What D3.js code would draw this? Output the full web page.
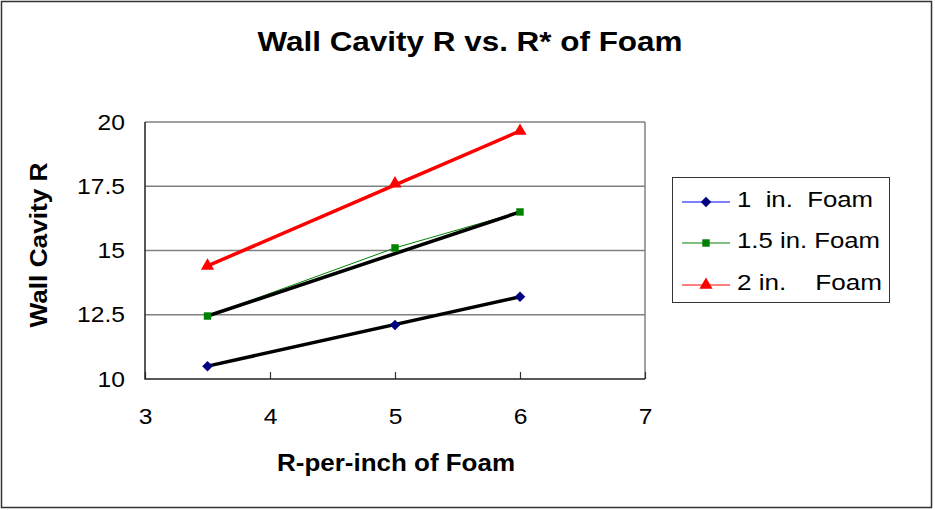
<!DOCTYPE html>
<html>
<head>
<meta charset="utf-8">
<script src="https://cdn.jsdelivr.net/npm/d3@7"></script>
<style>
  body { margin: 0; background: #fff; }
  svg { font-family: "Liberation Sans", Arial, sans-serif; }
</style>
</head>
<body>
<svg class="chart" width="935" height="510"></svg>
<script>
// data
const rPerInch = [3.5, 5, 6];
const foam1 = [10.5, 12.1, 13.2];
const foam15 = [12.45, 15.1, 16.5];
const foam2 = [14.4, 17.6, 19.65];
const seriesNames = ["1  in.  Foam", "1.5 in. Foam", "2 in.    Foam"];
const xTicks = [3, 4, 5, 6, 7];
const yTicks = [10, 12.5, 15, 17.5, 20];

// config
const plot = { left: 145, top: 122, right: 645, bottom: 379 };
const svg = d3.select("svg.chart");

const x = d3.scaleLinear().domain([3, 7]).range([plot.left, plot.right]);
const y = d3.scaleLinear().domain([10, 20]).range([plot.bottom, plot.top]);

const diamond = d3.symbolDiamond2 || d3.symbolDiamond;
const series = [
  { name: seriesNames[0], values: foam1, color: "#0000ff", marker: "#000080", shape: diamond, size: 70, trend: "#000" },
  { name: seriesNames[1], values: foam15, color: "#008000", marker: "#008000", shape: d3.symbolSquare, size: 55, trend: "#000" },
  { name: seriesNames[2], values: foam2, color: "#ff0000", marker: "#ff0000", shape: d3.symbolTriangle, size: 75, trend: "#ff0000" },
];

// outer frame
svg.append("rect")
  .attr("x", 1.5).attr("y", 1.5)
  .attr("width", 930).attr("height", 506)
  .attr("fill", "#fff")
  .attr("stroke", "#333").attr("stroke-width", 1.5);

// gridlines
svg.append("g")
  .selectAll("line")
  .data(yTicks.filter(d => d > 10))
  .join("line")
  .attr("x1", plot.left).attr("x2", plot.right)
  .attr("y1", d => y(d)).attr("y2", d => y(d))
  .attr("stroke", "#808080").attr("stroke-width", 1.5);

// right border
svg.append("line")
  .attr("x1", plot.right).attr("x2", plot.right)
  .attr("y1", plot.top).attr("y2", plot.bottom)
  .attr("stroke", "#808080").attr("stroke-width", 1.5);

// x axis
const gx = svg.append("g")
  .attr("transform", `translate(0,${plot.bottom})`)
  .call(d3.axisBottom(x).tickValues(xTicks).tickSize(-7).tickPadding(29).tickFormat(d => d));
gx.select(".domain").remove();
gx.selectAll(".tick line").attr("stroke", "#333").attr("stroke-width", 1.2);
gx.selectAll(".tick text")
  .attr("font-size", 22).attr("fill", "#000")
  .attr("transform", "scale(1.12,1)");

// y axis
const gy = svg.append("g")
  .attr("transform", `translate(${plot.left},0)`)
  .call(d3.axisLeft(y).tickValues(yTicks).tickSize(0).tickPadding(20).tickFormat(d => d));
gy.select(".domain").remove();
gy.selectAll(".tick text")
  .attr("font-size", 22).attr("fill", "#000")
  .attr("transform", "scale(1.12,1)")
  .attr("x", -20 / 1.12);

// left + bottom axis lines
svg.append("path")
  .attr("d", `M${plot.left},${plot.top}V${plot.bottom}H${plot.right}`)
  .attr("fill", "none")
  .attr("stroke", "#222").attr("stroke-width", 1.5);

// series lines
const line = d3.line().x(d => x(d[0])).y(d => y(d[1]));
series.forEach(s => {
  const pts = rPerInch.map((r, i) => [r, s.values[i]]);
  svg.append("path")
    .datum(pts)
    .attr("d", line)
    .attr("fill", "none")
    .attr("stroke", s.color).attr("stroke-width", 1);
});

// trendlines (first point to last point)
series.forEach(s => {
  const n = rPerInch.length - 1;
  const ends = [[rPerInch[0], s.values[0]], [rPerInch[n], s.values[n]]];
  svg.append("path")
    .datum(ends)
    .attr("d", line)
    .attr("fill", "none")
    .attr("stroke", s.trend).attr("stroke-width", 3.5);
});

// markers
series.forEach(s => {
  svg.append("g")
    .selectAll("path")
    .data(rPerInch.map((r, i) => [r, s.values[i]]))
    .join("path")
    .attr("d", d3.symbol().type(s.shape).size(s.size))
    .attr("transform", d => `translate(${x(d[0])},${y(d[1])})`)
    .attr("fill", s.marker);
});

// title
svg.append("text")
  .attr("x", 470).attr("y", 51)
  .attr("text-anchor", "middle")
  .attr("font-size", 27).attr("font-weight", "bold")
  .attr("textLength", 425).attr("lengthAdjust", "spacingAndGlyphs")
  .text("Wall Cavity R vs. R* of Foam");

// axis titles
svg.append("text")
  .attr("x", 396).attr("y", 471)
  .attr("text-anchor", "middle")
  .attr("font-size", 23).attr("font-weight", "bold")
  .attr("textLength", 238).attr("lengthAdjust", "spacingAndGlyphs")
  .text("R-per-inch of Foam");

svg.append("text")
  .attr("transform", "translate(47,245) rotate(-90)")
  .attr("text-anchor", "middle")
  .attr("font-size", 23).attr("font-weight", "bold")
  .attr("textLength", 165).attr("lengthAdjust", "spacingAndGlyphs")
  .text("Wall Cavity R");

// legend
const legend = svg.append("g").attr("class", "legend");
legend.append("rect")
  .attr("x", 672.5).attr("y", 177.5)
  .attr("width", 217).attr("height", 125)
  .attr("fill", "#fff")
  .attr("stroke", "#333").attr("stroke-width", 1);

const legendRows = [202, 243, 285];
const legendWidths = [136, 143, 145];
series.forEach((s, i) => {
  const row = legend.append("g").attr("transform", `translate(0,${legendRows[i]})`);
  row.append("line")
    .attr("x1", 682).attr("x2", 730)
    .attr("stroke", s.color).attr("stroke-width", 1);
  row.append("path")
    .attr("d", d3.symbol().type(s.shape).size(s.size))
    .attr("transform", "translate(706,0)")
    .attr("fill", s.marker);
  row.append("text")
    .attr("x", 737).attr("y", 5)
    .attr("font-size", 22)
    .attr("xml:space", "preserve")
    .style("white-space", "pre")
    .attr("textLength", legendWidths[i]).attr("lengthAdjust", "spacingAndGlyphs")
    .text(s.name);
});
</script>
</body>
</html>
